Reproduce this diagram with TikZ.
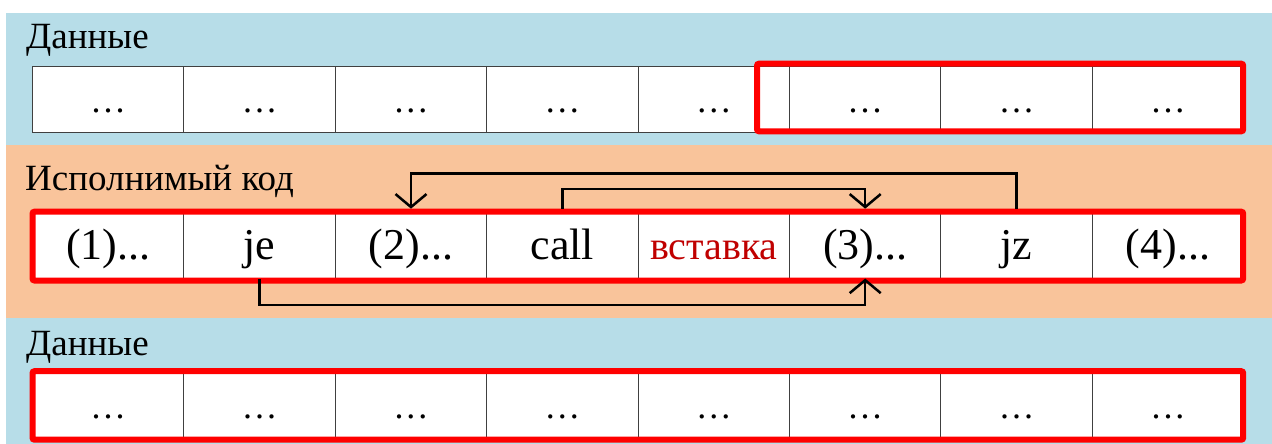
\documentclass[tikz,border=0pt]{standalone}
\usepackage{fontspec}
\setmainfont{Liberation Serif}
\usetikzlibrary{arrows.meta}
\definecolor{bandblue}{HTML}{B7DDE8}
\definecolor{bandorange}{HTML}{F9C49B}
\definecolor{insred}{HTML}{C00000}
\definecolor{cellgray}{HTML}{404040}
\newcommand{\spdots}{.\kern3pt.\kern3pt.}
\begin{document}
\begin{tikzpicture}[x=1pt,y=-1pt,
  cell/.style={draw=cellgray, line width=1pt, fill=white, minimum width=151.4pt,
    inner sep=0pt, text height=30pt, text depth=4pt, anchor=north west},
  dotsfont/.style={font=\fontsize{36}{40}\selectfont},
  codefont/.style={font=\fontsize{44}{48}\selectfont},
  bandlabel/.style={anchor=base west, inner sep=0pt, font=\fontsize{37}{42}\selectfont},
  redbox/.style={draw=red, line width=6pt, rounded corners=2pt},
  jump/.style={draw=black, line width=2.5pt, -{Straight Barb[length=13pt,width=31pt]}}
]
\useasboundingbox (0,0) rectangle (1272,444);
% bands
\fill[bandblue] (6,13) rectangle (1272,145);
\fill[bandorange] (6,145) rectangle (1272,318);
\fill[bandblue] (6,318) rectangle (1272,444);
% top data row
\foreach \i in {1,...,8}
  \node[cell, dotsfont, minimum height=66.6pt] (t\i) at ({32+151.4*(\i-1)},65.7) {\spdots};
% code row
\node[cell, codefont, minimum height=68.8pt] (m1) at (32,211.7) {(1)...};
\node[cell, codefont, minimum height=68.8pt] (m2) at (183.4,211.7) {je};
\node[cell, codefont, minimum height=68.8pt] (m3) at (334.8,211.7) {(2)...};
\node[cell, codefont, minimum height=68.8pt] (m4) at (486.2,211.7) {call};
\node[cell, font=\fontsize{40}{44}\selectfont, text=insred, minimum height=68.8pt] (m5) at (637.6,211.7) {вставка};
\node[cell, codefont, minimum height=68.8pt] (m6) at (789,211.7) {(3)...};
\node[cell, codefont, minimum height=68.8pt] (m7) at (940.4,211.7) {jz};
\node[cell, codefont, minimum height=68.8pt] (m8) at (1091.8,211.7) {(4)...};
% bottom data row
\foreach \i in {1,...,8}
  \node[cell, dotsfont, minimum height=68.5pt] (b\i) at ({32+151.4*(\i-1)},371.2) {\spdots};
% red frames
\draw[redbox] (757,63.7) rectangle (1243.2,131.3);
\draw[redbox] (32.5,211.7) rectangle (1243.2,280.5);
\draw[redbox] (32.5,371.2) rectangle (1243.2,439.7);
% jumps
\draw[jump] ([yshift=3pt]m7.north) -- ++(0,-35) -| ([yshift=3pt]m3.north);
\draw[jump] ([yshift=3pt]m4.north) -- ++(0,-19.7) -| ([yshift=3pt]m6.north);
\draw[jump] ([yshift=3pt]m2.south) -- ++(0,26.3) -| ([yshift=3pt]m6.south);
% labels
\node[bandlabel] (l1) at (26,48.3) {Данные};
\node[bandlabel] (l2) at (25,190) {Исполнимый код};
\node[bandlabel] (l3) at (26,355) {Данные};
\end{tikzpicture}
\end{document}
